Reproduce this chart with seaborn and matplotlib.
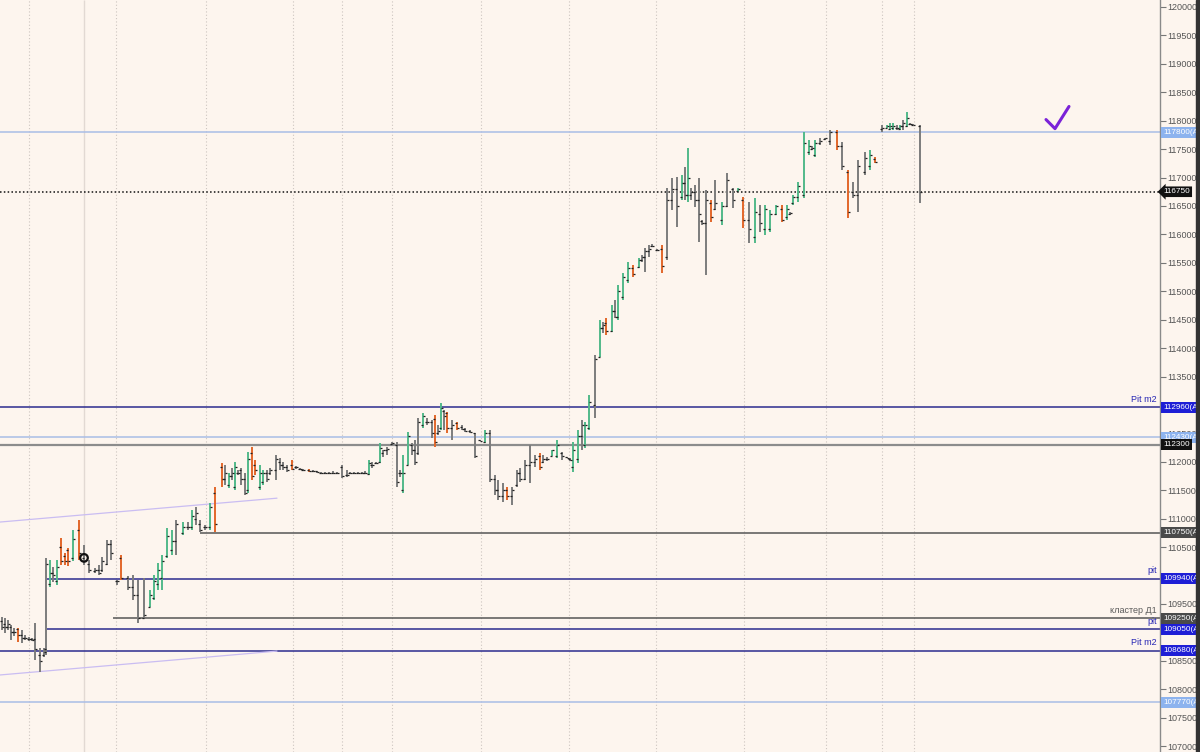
import numpy as np
import matplotlib
matplotlib.use("Agg")
import matplotlib.pyplot as plt
import matplotlib.transforms as mtransforms
from matplotlib.patches import Rectangle
import seaborn as sns

# -------------------------
# Dati: barre OHLC (tempo in unita' arbitrarie)
# -------------------------
t = [2, 5, 8, 11, 14, 18, 22, 25, 29, 32,
     35, 40, 44, 46, 50, 53, 57, 61, 65, 68,
     73, 79, 84, 89, 95, 99, 102, 107, 111, 117,
     121, 128, 133, 138, 144, 150, 154, 158, 162, 167,
     172, 176, 183, 188, 192, 196, 200, 205, 210, 215,
     222, 225, 229, 232, 235, 238, 241, 245, 248, 252,
     255, 260, 263, 267, 270, 276, 280, 283, 287, 292,
     296, 300, 303, 309, 313, 317, 321, 325, 329, 333,
     337, 342, 347, 350, 354, 358, 362, 365, 369, 372,
     376, 380, 383, 387, 392, 397, 400, 403, 408, 412,
     415, 418, 423, 427, 432, 435, 438, 441, 444, 447,
     452, 457, 462, 465, 470, 475, 480, 485, 490, 495,
     498, 503, 507, 512, 517, 520, 525, 530, 535, 540,
     543, 547, 552, 557, 562, 567, 570, 573, 578, 582,
     585, 589, 595, 600, 603, 606, 612, 615, 618, 623,
     628, 633, 639, 642, 645, 649, 652, 657, 662, 667,
     672, 677, 682, 685, 688, 691, 695, 699, 702, 706,
     711, 715, 722, 727, 733, 738, 743, 749, 755, 760,
     765, 770, 776, 782, 787, 790, 793, 798, 804, 809,
     812, 815, 820, 825, 830, 837, 842, 848, 853, 858,
     865, 870, 875, 882, 887, 890, 893, 897, 900, 903,
     907, 910, 913, 920]

op = [109200, 109150, 109100, 109100, 109000, 109050, 108950, 108900, 108880, 108880,
      108880, 108600, 108600, 108700, 109850, 110050, 109900, 110500, 110350, 110450,
      110300, 110800, 110300, 110200, 110080, 110100, 110100, 110200, 110550, 109900,
      110300, 109950, 109800, 109650, 109250, 109450, 109600, 109850, 109950, 110350,
      110450, 110600, 110750, 110850, 110850, 111000, 110900, 110850, 110850, 111450,
      111900, 111700, 111600, 111750, 111550, 111800, 111850, 111700, 111500, 112150,
      111950, 111550, 111650, 111800, 111800, 111850, 112000, 111950, 111900, 111950,
      111900, 111880, 111860, 111860, 111840, 111830, 111810, 111800, 111810, 111800,
      111810, 111900, 111760, 111800, 111800, 111810, 111800, 111800, 111790, 111950,
      111970, 112000, 112150, 112200, 112320, 112300, 111800, 111500, 111950, 112300,
      112200, 112150, 112650, 112700, 112700, 112750, 112500, 112600, 112900, 112850,
      112600, 112680, 112620, 112570, 112540, 112500, 112380, 112350, 112500, 111700,
      111500, 111400, 111500, 111400, 111600, 111800, 111700, 111950, 112000, 112100,
      112000, 112050, 112110, 112100, 112150, 112080, 112050, 111900, 112050, 112450,
      112300, 112600, 113000, 113850, 114350, 114450, 114300, 114650, 114550, 114900,
      115200, 115400, 115420, 115550, 115600, 115700, 115800, 115730, 115750, 115600,
      116600, 116800, 116650, 116900, 116700, 116700, 116750, 116600, 116230, 116200,
      116550, 116450, 116250, 116500, 116800, 116760, 116600, 116250, 115950, 116350,
      116100, 116100, 116350, 116450, 116300, 116360, 116550, 116650, 116700, 117450,
      117500, 117400, 117600, 117670, 117650, 117800, 117550, 117100, 116750, 116700,
      117100, 117200, 117330, 117850, 117880, 117860, 117870, 117880, 117860, 117900,
      117900, 117950, 117930, 117900]

hi = [109270, 109250, 109220, 109130, 109080, 109080, 109040, 108950, 108920, 108900,
      109170, 108720, 108720, 110310, 110270, 110150, 110270, 110660, 110400, 110480,
      110800, 110980, 110540, 110270, 110130, 110180, 110320, 110620, 110620, 109920,
      110360, 109990, 110010, 109920, 109950, 109740, 110010, 110220, 110360, 110840,
      110800, 110980, 110940, 110940, 111150, 111210, 110980, 110890, 111280, 111560,
      111980, 111940, 111800, 111890, 111990, 111860, 111890, 111800, 112170, 112260,
      112030, 111940, 111860, 111860, 111890, 112120, 112070, 111990, 111940, 112030,
      111920, 111890, 111870, 111870, 111860, 111840, 111820, 111820, 111820, 111840,
      111820, 111940, 111860, 111820, 111820, 111820, 111820, 111840, 112030, 111990,
      111990, 112330, 112210, 112260, 112350, 112350, 111860, 112120, 112520, 112330,
      112380, 112770, 112860, 112770, 112740, 112820, 112650, 113030, 112910, 112880,
      112740, 112700, 112650, 112600, 112560, 112510, 112390, 112560, 112560, 111770,
      111680, 111630, 111560, 111560, 111860, 111890, 112030, 112290, 112120, 112160,
      112120, 112080, 112210, 112380, 112170, 112080, 112070, 112350, 112560, 112740,
      112700, 113170, 113880, 114490, 114460, 114530, 114760, 114850, 115110, 115320,
      115510, 115460, 115580, 115640, 115760, 115810, 115830, 115740, 115810, 116820,
      116990, 117010, 117050, 117190, 117520, 116820, 116870, 116990, 116250, 116780,
      116610, 116960, 116570, 117080, 116820, 116820, 116660, 116570, 116640, 116520,
      116520, 116430, 116520, 116520, 116520, 116390, 116690, 116920, 117800, 117660,
      117550, 117660, 117700, 117700, 117840, 117840, 117630, 117130, 116920, 117310,
      117450, 117480, 117360, 117920, 117920, 117960, 117960, 117920, 117920, 118010,
      118150, 117960, 117940, 117920]

lo = [109040, 108990, 109040, 108870, 108930, 108830, 108810, 108870, 108850, 108850,
      108510, 108300, 108560, 108600, 109800, 109880, 109830, 110190, 110190, 110170,
      110250, 110270, 110190, 110040, 110040, 110010, 110060, 110190, 110270, 109830,
      109920, 109750, 109570, 109170, 109250, 109450, 109570, 109740, 109740, 110310,
      110360, 110360, 110710, 110800, 110800, 110890, 110770, 110800, 110800, 110760,
      111560, 111590, 111540, 111680, 111500, 111770, 111590, 111420, 111450, 111680,
      111770, 111500, 111590, 111650, 111770, 111680, 111860, 111860, 111820, 111860,
      111870, 111860, 111840, 111820, 111820, 111800, 111790, 111790, 111790, 111790,
      111790, 111710, 111730, 111790, 111790, 111790, 111790, 111790, 111770, 111890,
      111960, 111980, 112080, 112120, 112300, 111560, 111730, 111450, 111940, 112120,
      111940, 112120, 112600, 112650, 112420, 112260, 112470, 112560, 112560, 112510,
      112380, 112560, 112560, 112520, 112510, 112070, 112370, 112330, 111650, 111420,
      111330, 111290, 111330, 111240, 111560, 111650, 111680, 111630, 111910, 111860,
      111980, 112010, 112100, 112070, 112030, 112070, 112010, 111820, 111980, 112210,
      112240, 112560, 112770, 113850, 114260, 114230, 114280, 114530, 114490, 114850,
      115140, 115250, 115410, 115520, 115340, 115600, 115780, 115710, 115320, 115550,
      116430, 116130, 116600, 116600, 116570, 116600, 116480, 115870, 116160, 115290,
      116220, 116430, 116160, 116480, 116460, 116750, 116110, 115850, 115850, 116040,
      115990, 116040, 116340, 116220, 116250, 116340, 116520, 116570, 116640, 117400,
      117480, 117360, 117570, 117660, 117570, 117490, 117130, 116290, 116640, 116390,
      117050, 117130, 117260, 117800, 117870, 117840, 117840, 117840, 117840, 117840,
      117890, 117930, 117920, 116550]

cl = [109100, 109100, 109150, 109000, 109000, 108950, 108900, 108900, 108880, 108870,
      108700, 108500, 108650, 110200, 110050, 110000, 110150, 110250, 110250, 110250,
      110650, 110400, 110250, 110100, 110100, 110050, 110250, 110550, 110400, 109900,
      109950, 109800, 109650, 109250, 109300, 109650, 109900, 110100, 110250, 110700,
      110600, 110900, 110850, 110850, 111050, 111100, 110800, 110850, 111200, 110900,
      111700, 111800, 111750, 111800, 111900, 111800, 111700, 111450, 112050, 111750,
      111850, 111800, 111800, 111700, 111850, 112050, 111950, 111900, 111850, 111880,
      111900, 111870, 111850, 111830, 111840, 111820, 111800, 111810, 111800, 111810,
      111800, 111750, 111760, 111800, 111810, 111800, 111800, 111810, 111980, 111950,
      111980, 112250, 112200, 112230, 112330, 111650, 111800, 111800, 112450, 112200,
      112000, 112700, 112800, 112700, 112500, 112350, 112550, 112950, 112800, 112600,
      112650, 112600, 112580, 112550, 112530, 112100, 112370, 112500, 111700, 111500,
      111400, 111500, 111400, 111500, 111800, 111700, 111950, 112000, 112050, 111900,
      112050, 112050, 112200, 112300, 112100, 112070, 112030, 112200, 112450, 112650,
      112650, 113050, 113800, 114350, 114400, 114300, 114650, 114550, 115000, 115250,
      115400, 115300, 115550, 115600, 115700, 115750, 115800, 115720, 115450, 116600,
      116800, 116500, 116900, 116700, 117000, 116750, 116600, 116350, 116200, 116600,
      116300, 116550, 116500, 116950, 116600, 116800, 116250, 116100, 116400, 116200,
      116450, 116350, 116500, 116250, 116450, 116370, 116650, 116850, 117600, 117550,
      117520, 117600, 117650, 117690, 117800, 117550, 117200, 116400, 116700, 117200,
      117350, 117400, 117280, 117880, 117900, 117900, 117900, 117880, 117900, 117960,
      118050, 117940, 117930, 116750]

# g = verde, o = arancio, k = grigio
kind = ("kkkkkokkkk" "kkkkgkgooo" "gokkkkkkkk" "okkkkggggg" "gkgkgkkkgo"
        "okgkgkkkgo" "oggkkkkkko" "kkkokkkkkk" "kkkkkkkkgk" "kgkkkkkggk"
        "kkgkkokgko" "kokkkkkgkk" "kkokkkkkko" "kkggkkkggk" "ggkgkogkgg"
        "gogkkkkkok" "kkgkgkkkkk" "okgkkgokgk" "gggogkgggg" "kgkkkokokk"
        "kgokgggkgk" "gkkk")

# livelli orizzontali
lvl_price = [117800, 116750, 112960, 112430, 112300, 110750, 109940, 109250, 109050, 108680, 107770]
lvl_start = [0, 0, 0, 0, 0, 200, 47, 113, 47, 0, 0]
lvl_text = ["117800(A", "116750", "112960(A", "112430(A", "112300", "110750(A",
            "109940(A", "109250(A", "109050(A", "108680(A", "107770(A"]
lvl_kind = ["light", "last", "pit", "light", "black", "gray", "pit", "gray", "pit", "pit", "light"]

# note di testo sopra i livelli
note_text = ["Pit m2", "pit", "кластер Д1", "pit", "Pit m2"]
note_price = [112960, 109940, 109250, 109050, 108680]
note_kind = ["pit", "pit", "gray", "pit", "pit"]

# linee di tendenza
trend_t = [0, 277]
trend_up = [110940, 111360]
trend_dn = [108250, 108670]

# segno di spunta e cerchio
check_t = [1046, 1055, 1069]
check_p = [118020, 117860, 118250]
circle_t = [84]
circle_p = [110310]

grid_dotted = [29, 116, 206, 293, 342, 392, 481, 569, 656, 744, 826, 882, 914]
grid_solid = [84]

# etichette dell'asse coperte dai riquadri dei livelli
hidden_ticks = [113000, 110000, 109000]

# -------------------------
# Grafico
# -------------------------
bg = "#fdf5ee"
sns.set_style("white", {"axes.facecolor": bg, "figure.facecolor": bg})
plt.rcParams['font.family'] = ['Liberation Sans', 'DejaVu Sans']

fig = plt.figure(figsize=(12, 7.52), dpi=100)
ax = fig.add_axes([0, 0, 1160 / 1200, 1])
ax.set_xlim(0, 1160)
ax.set_ylim(106895, 120123)

ax.vlines(grid_dotted, 106895, 120123, colors="#cdc5c0", linestyles=(0, (1, 2)), lw=0.8, zorder=1)
ax.vlines(grid_solid, 106895, 120123, colors="#e2d9d3", lw=1.0, zorder=1)

line_col = {"light": "#a9bde6", "last": "#111111", "pit": "#2b2b8e", "black": "#8c8c8c", "gray": "#555555"}
box_col = {"light": "#8db3ee", "last": "#111111", "pit": "#1e1ed6", "black": "#111111", "gray": "#4a4a4a"}
for p, s, k in zip(lvl_price, lvl_start, lvl_kind):
    ls = (0, (1, 1.5)) if k == "last" else "-"
    lw = 1.6 if k == "black" else 1.1
    ax.hlines(p, s, 1160, colors=line_col[k], linestyles=ls, lw=lw, zorder=2)

sns.lineplot(x=trend_t, y=trend_up, ax=ax, color="#cabdf2", lw=0.9, zorder=2)
sns.lineplot(x=trend_t, y=trend_dn, ax=ax, color="#cabdf2", lw=0.9, zorder=2)

# barre OHLC
t = np.array(t)
colmap = {"g": "#52b98a", "o": "#e2672a", "k": "#7c7c7c"}
cols = [colmap[k] for k in kind]
ax.vlines(t, lo, hi, colors=cols, lw=1.4, zorder=3)
ax.hlines(op, t - 2, t, colors="#222222", lw=0.9, zorder=4)
ax.hlines(cl, t, t + 2, colors="#222222", lw=0.9, zorder=4)

ax.scatter(circle_t, circle_p, s=30, facecolors="none", edgecolors="#111111", linewidths=1.6, zorder=6)
sns.lineplot(x=check_t, y=check_p, ax=ax, sort=False, color="#7b22d8", lw=2.2, zorder=6)

# asse dei prezzi a destra
ax.yaxis.tick_right()
ticks = np.arange(107000, 120001, 500)
ax.set_yticks(ticks)
ax.set_yticklabels(["" if v in hidden_ticks else str(v) for v in ticks])
ax.tick_params(axis="y", direction="out", length=4, width=0.8, color="#777777",
               pad=1, labelsize=6.5, labelcolor="#555555")
ax.set_xticks([])
for s in ["top", "bottom", "left"]:
    ax.spines[s].set_visible(False)
ax.spines["right"].set_color("#8a8a8a")
ax.spines["right"].set_linewidth(1.0)

trans = mtransforms.blended_transform_factory(ax.transAxes, ax.transData)
for p, txt, k in zip(lvl_price, lvl_text, lvl_kind):
    style = "larrow,pad=0.22" if k == "last" else "square,pad=0.25"
    ax.text(1.003, p, txt, transform=trans, ha="left", va="center", fontsize=5.9,
            color="white", bbox=dict(boxstyle=style, fc=box_col[k], ec="none"),
            clip_on=False, zorder=6)

note_col = {"pit": "#2626b4", "gray": "#5a5a5a"}
for txt, p, k in zip(note_text, note_price, note_kind):
    ax.text(1157, p + 60, txt, ha="right", va="bottom", fontsize=6.5, color=note_col[k], zorder=5)

fig.add_artist(Rectangle((1196 / 1200, 0), 4 / 1200, 1, transform=fig.transFigure,
                         color="#333333", zorder=10))

fig.savefig("out.png", dpi=100, facecolor=bg)
